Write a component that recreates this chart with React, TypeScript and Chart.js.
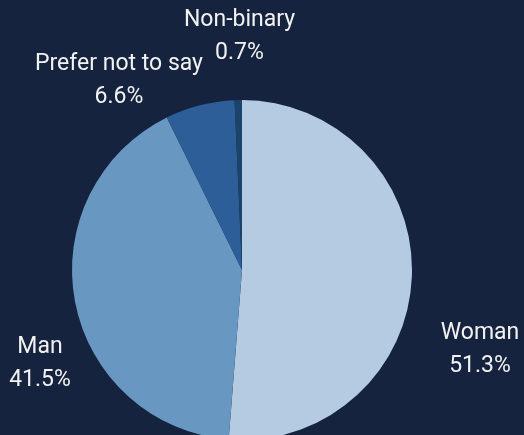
import React, { useEffect, useRef } from "react";
import { Chart, registerables } from "chart.js";

Chart.register(...registerables);

const categories = ["Woman", "Man", "Prefer not to say", "Non-binary"];
const shares = [51.3, 41.5, 6.6, 0.7];
const sliceColors = ["#b4cbe2", "#6897c2", "#2e5e97", "#1a4469"];
// label anchor offsets from pie centre (px)
const labelOffsets: [number, number][] = [
  [238, 80],
  [-202, 94],
  [-123, -189],
  [-2.5, -233],
];

const BG = "#15233f";

const labelPlugin = {
  id: "outerLabels",
  afterDraw(chart: any) {
    const ctx = chart.ctx;
    const meta = chart.getDatasetMeta(0);
    ctx.save();
    ctx.fillStyle = "#f2f2f2";
    ctx.font = "23px Roboto";
    ctx.textAlign = "center";
    ctx.textBaseline = "middle";
    meta.data.forEach((arc: any, i: number) => {
      const cx = arc.x;
      const cy = arc.y;
      const [dx, dy] = labelOffsets[i];
      const x = cx + dx;
      const y = cy + dy;
      ctx.fillText(categories[i], x, y - 16.5);
      ctx.fillText(shares[i].toFixed(1) + "%", x, y + 16.5);
    });
    ctx.restore();
  },
};

export default function App() {
  const ref = useRef<HTMLCanvasElement | null>(null);
  useEffect(() => {
    if (!ref.current) return;
    const chart = new Chart(ref.current, {
      type: "pie",
      data: {
        labels: categories,
        datasets: [
          {
            data: shares,
            backgroundColor: sliceColors,
            borderWidth: 0,
          },
        ],
      },
      options: {
        animation: false,
        responsive: true,
        maintainAspectRatio: false,
        layout: { padding: { left: 72, right: 112, top: 100, bottom: 100 } },
        plugins: { legend: { display: false }, tooltip: { enabled: false } },
      },
      plugins: [labelPlugin],
    });
    return () => chart.destroy();
  }, []);
  return (
    <div
      style={{
        position: "fixed",
        left: 0,
        top: 0,
        width: 524,
        height: 435,
        overflow: "hidden",
        background: BG,
      }}
    >
      <div style={{ position: "relative", width: 524, height: 540 }}>
        <canvas ref={ref} />
      </div>
    </div>
  );
}
